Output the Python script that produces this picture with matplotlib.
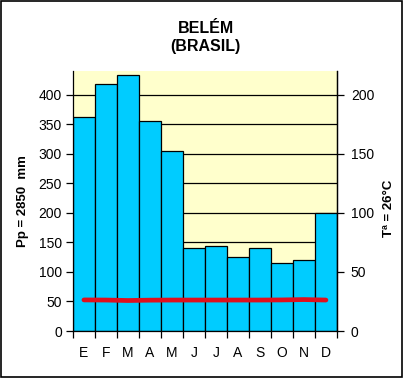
import matplotlib
matplotlib.use("Agg")
import matplotlib.pyplot as plt
from matplotlib.patches import Rectangle
import numpy as np

plt.rcParams['font.family'] = ['Liberation Sans', 'DejaVu Sans']

months = ["E", "F", "M", "A", "M", "J", "J", "A", "S", "O", "N", "D"]
precip = [362, 418, 433, 356, 304, 140, 143, 125, 140, 115, 120, 200]
temp = [26.3, 26.2, 25.8, 26.1, 26.2, 26.2, 26.2, 26.2, 26.2, 26.3, 26.6, 26.2]
left_ticks = [0, 50, 100, 150, 200, 250, 300, 350, 400]
right_ticks = [0, 50, 100, 150, 200]

fig = plt.figure(figsize=(4.03, 3.78), dpi=100)
fig.patch.set_facecolor('white')
fig.add_artist(Rectangle((0.003, 0.003), 0.994, 0.994, transform=fig.transFigure,
                         fill=False, edgecolor='black', linewidth=1.2))

ax = fig.add_axes([0.181, 0.1243, 0.655, 0.688])
ax.set_facecolor('#FFFFCC')
x = np.arange(len(months))
ax.set_axisbelow(True)
for v in left_ticks[1:]:
    ax.axhline(v, color='black', linewidth=0.9, zorder=0.5)
ax.bar(x, precip, width=1.0, color='#00CCFF', edgecolor='black', linewidth=0.9, zorder=2)
ax.set_xlim(-0.5, 11.5)
ax.set_ylim(0, 440)
ax.set_yticks(left_ticks)
ax.set_yticklabels([str(t) for t in left_ticks], fontsize=10)
ax.set_xticks(x)
ax.set_xticklabels(months, fontsize=10)
ax.set_xticks(np.arange(-0.5, 12, 1), minor=True)
ax.tick_params(axis='x', which='major', length=0, pad=11)
ax.tick_params(axis='x', which='minor', length=5, width=0.9, direction='out')
ax.tick_params(axis='y', length=5, width=0.9, direction='out', pad=3)
ax.spines['top'].set_visible(False)
ax.spines['left'].set_linewidth(0.9)
ax.spines['bottom'].set_linewidth(0.9)
ax.spines['right'].set_linewidth(0.9)
ax.set_ylabel("Pp = 2850  mm", fontsize=9.5, fontweight='bold', labelpad=7)

ax2 = ax.twinx()
ax2.plot(x, temp, color='#E0101E', linewidth=3.4, solid_capstyle='round', zorder=5)
ax2.set_ylim(0, 220)
ax2.set_yticks(right_ticks)
ax2.set_yticklabels([str(t) for t in right_ticks], fontsize=10)
ax2.tick_params(axis='y', length=5, width=0.9, direction='out', pad=5)
ax2.spines['top'].set_visible(False)
ax2.spines['left'].set_visible(False)
ax2.spines['bottom'].set_visible(False)
ax2.spines['right'].set_linewidth(0.9)
ax2.set_ylabel("Tª = 26°C", fontsize=9.5, fontweight='bold')
ax2.yaxis.set_label_coords(1.175, 0.47)

fig.text(0.51, 0.925, "BELÉM", ha='center', va='center', fontsize=11.5, fontweight='bold')
fig.text(0.51, 0.877, "(BRASIL)", ha='center', va='center', fontsize=11.5, fontweight='bold')

fig.savefig("out.png", dpi=100)
